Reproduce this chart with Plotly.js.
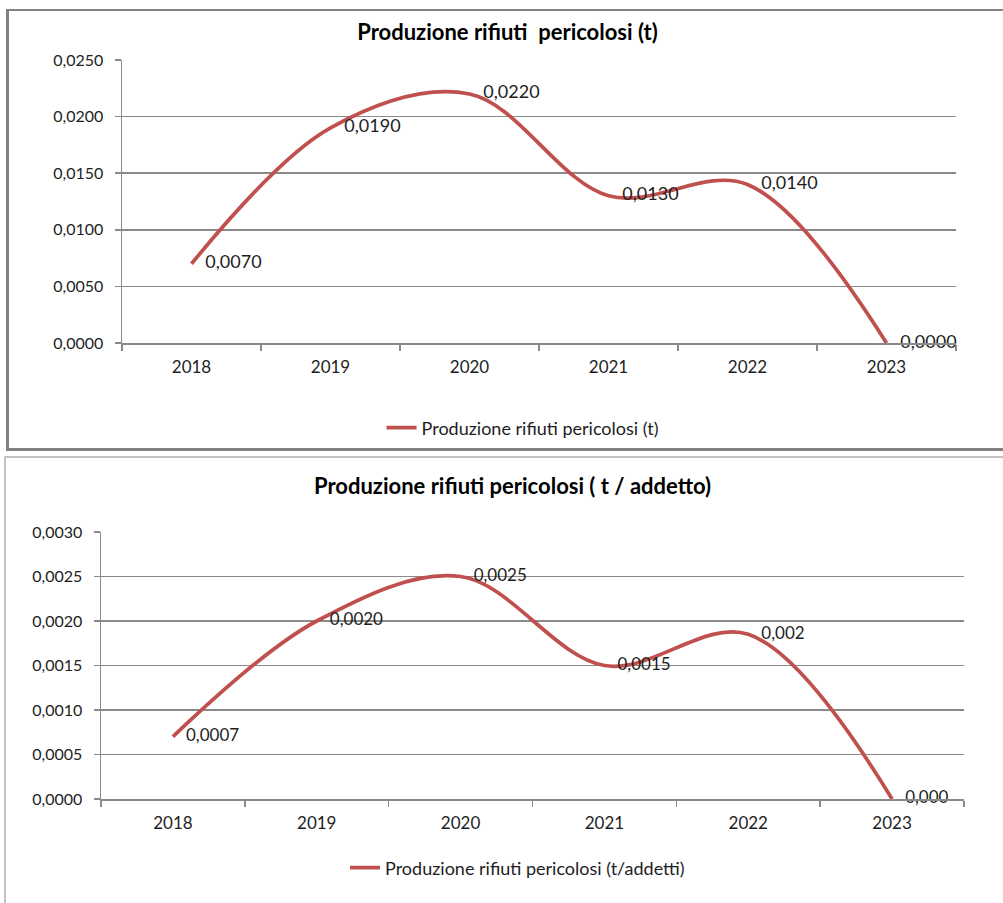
<!DOCTYPE html>
<html>
<head>
<meta charset="utf-8">
<script src="https://cdn.plot.ly/plotly-3.0.1.min.js"></script>
<style>
  html, body { margin: 0; padding: 0; background: #ffffff; width: 1003px; height: 903px; overflow: hidden; }
  .plot { position: absolute; left: 0; width: 1003px; }
  #frame1 { position: absolute; left: 6px; top: 9px; width: 1010px; height: 437px;
            border-left: 3px solid #808080; border-top: 2px solid #858585; border-bottom: 3px solid #808080;
            pointer-events: none; z-index: 10; }
  #frame2 { position: absolute; left: 4px; top: 456px; width: 1010px; height: 460px;
            border-left: 2px solid #c2c2c2; border-top: 2px solid #c2c2c2;
            pointer-events: none; z-index: 10; }
</style>
</head>
<body>
<div id="chart1" class="plot" style="top:0px;height:452px;"></div>
<div id="chart2" class="plot" style="top:452px;height:451px;"></div>
<div id="frame1"></div>
<div id="frame2"></div>
<script>
// ---- data ----
const years = ["2018", "2019", "2020", "2021", "2022", "2023"];

const rifiutiT = [0.0070, 0.0190, 0.0220, 0.0130, 0.0140, 0.0000];
const rifiutiTLabels = ["0,0070", "0,0190", "0,0220", "0,0130", "0,0140", "0,0000"];

const rifiutiAddetto = [0.0007, 0.0020, 0.0025, 0.0015, 0.00185, 0.0000];
const rifiutiAddettoLabels = ["0,0007", "0,0020", "0,0025", "0,0015", "0,002", "0,000"];

const title1 = "Produzione rifiuti  pericolosi (t)";
const title2 = "Produzione rifiuti pericolosi ( t / addetto)";
const legend1 = "Produzione rifiuti pericolosi (t)";
const legend2 = "Produzione rifiuti pericolosi (t/addetti)";

// ---- styles ----
const FONT = "Lato, 'Open Sans', sans-serif";
const RED = "#c0504d";
const GRID = "#8a8a8a";
const TXT = "#1e1e1e";

function makeTrace(y, labels, name, labelSize) {
  return {
    type: "scatter",
    mode: "lines+text",
    x: years,
    y: y,
    name: name,
    text: labels.map(s => "   " + s),
    textposition: "middle right",
    textfont: { family: FONT, size: labelSize, color: TXT },
    cliponaxis: false,
    line: { color: RED, width: 3.7, shape: "spline", smoothing: 1 },
    hoverinfo: "x+y"
  };
}

function makeLayout(opts) {
  return {
    width: 1003,
    height: opts.height,
    margin: opts.margin,
    paper_bgcolor: "rgba(0,0,0,0)",
    plot_bgcolor: "rgba(0,0,0,0)",
    separators: ",.",
    font: { family: FONT, size: 16, color: TXT },
    showlegend: true,
    title: {
      text: "<b>" + opts.title + "</b>",
      font: { family: FONT, size: 22, color: "#000000" },
      x: opts.titleX, xanchor: "center", xref: "container",
      y: opts.titleY, yanchor: "middle", yref: "container"
    },
    legend: {
      orientation: "h",
      xref: "container", x: opts.legX, xanchor: "center",
      yref: "container", y: opts.legY, yanchor: "middle",
      font: { family: FONT, size: 18, color: TXT },
      bgcolor: "rgba(0,0,0,0)"
    },
    xaxis: {
      type: "category",
      range: [-0.5, 5.5],
      automargin: false,
      showline: true, linecolor: GRID, linewidth: 1.5,
      ticks: "outside", tickson: "boundaries", ticklen: 6, tickcolor: GRID, tickwidth: 1.5,
      ticklabelstandoff: 8,
      showgrid: false, zeroline: false,
      tickfont: { family: FONT, size: 17, color: TXT }
    },
    yaxis: {
      range: opts.yRange,
      dtick: opts.dtick,
      tickformat: ".4f",
      automargin: false,
      showline: true, linecolor: GRID, linewidth: 1.5,
      ticks: "outside", ticklen: 6, tickcolor: GRID, tickwidth: 1.5,
      ticklabelstandoff: 8,
      showgrid: true, gridcolor: GRID, gridwidth: 1.5,
      zeroline: false,
      tickfont: { family: FONT, size: 16, color: TXT }
    }
  };
}

Plotly.newPlot("chart1", [makeTrace(rifiutiT, rifiutiTLabels, legend1, 18)], makeLayout({
  height: 452,
  margin: { l: 122, r: 47, t: 60, b: 109, pad: 0 },
  title: title1, titleX: 0.506, titleY: 1 - 32 / 452,
  legX: 0.521, legY: 1 - 428 / 452,
  yRange: [0, 0.025], dtick: 0.005
}), { staticPlot: true });

Plotly.newPlot("chart2", [makeTrace(rifiutiAddetto, rifiutiAddettoLabels, legend2, 17)], makeLayout({
  height: 451,
  margin: { l: 101, r: 39, t: 80, b: 104, pad: 0 },
  title: title2, titleX: 0.511, titleY: 1 - 34 / 451,
  legX: 0.516, legY: 1 - 416 / 451,
  yRange: [0, 0.003], dtick: 0.0005
}), { staticPlot: true });
</script>
</body>
</html>
